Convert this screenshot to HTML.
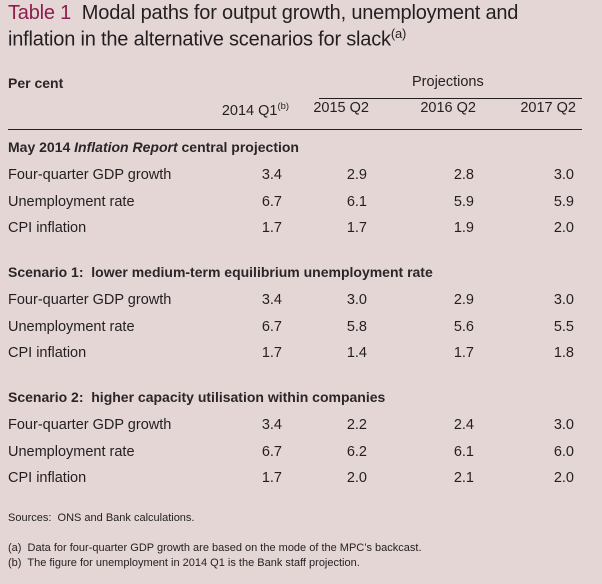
<!DOCTYPE html>
<html><head><meta charset="utf-8"><style>
body{margin:0;width:602px;height:584px;background:#e5d6d6;font-family:"Liberation Sans",sans-serif;color:#231f20;position:relative;overflow:hidden}
.t{position:absolute;white-space:nowrap}
.title{font-size:20px;letter-spacing:-0.2px}
.b{font-weight:bold;font-size:14px;color:#2a2627}
.r{font-size:14.5px}
.n{font-size:14.5px;text-align:right;width:60px}
.s{font-size:11px}
.rule{position:absolute;height:1px;background:#231f20}
sup{font-size:65%}
</style></head><body>
<div class="t title" style="left:8px;top:2px"><span style="color:#8c1d4e">Table 1</span>&nbsp; Modal paths for output growth, unemployment and</div>
<div class="t title" style="left:8px;top:26px">inflation in the alternative scenarios for slack<sup>(a)</sup></div>
<div class="t b" style="left:8px;top:75px">Per cent</div>
<div class="t r" style="left:412px;top:74px">Projections</div>
<div class="rule" style="left:319px;top:98px;width:263px"></div>
<div class="rule" style="left:8px;top:129px;width:574px"></div>
<div class="t s" style="left:8px;top:512px">Sources:&nbsp; ONS and Bank calculations.</div>
<div class="t s" style="left:8px;top:542px">(a)&nbsp; Data for four-quarter GDP growth are based on the mode of the MPC’s backcast.</div>
<div class="t s" style="left:8px;top:557px">(b)&nbsp; The figure for unemployment in 2014 Q1 is the Bank staff projection.</div>
<script>
const columns=["2014 Q1","2015 Q2","2016 Q2","2017 Q2"];
const sections=["May 2014 <i>Inflation Report</i> central projection","Scenario 1:&nbsp; lower medium-term equilibrium unemployment rate","Scenario 2:&nbsp; higher capacity utilisation within companies"];
const rowLabels=["Four-quarter GDP growth","Unemployment rate","CPI inflation"];
const central=[["3.4","2.9","2.8","3.0"],["6.7","6.1","5.9","5.9"],["1.7","1.7","1.9","2.0"]];
const scenario1=[["3.4","3.0","2.9","3.0"],["6.7","5.8","5.6","5.5"],["1.7","1.4","1.7","1.8"]];
const scenario2=[["3.4","2.2","2.4","3.0"],["6.7","6.2","6.1","6.0"],["1.7","2.0","2.1","2.0"]];
const data=[central,scenario1,scenario2];
const colRight=[282,367,474,574];
const root=document.body;
function mk(cls,html,l,t){const d=document.createElement('div');d.className='t '+cls;d.innerHTML=html;d.style.left=l+'px';d.style.top=t+'px';root.appendChild(d);return d;}
columns.forEach((c,i)=>{
  const d=mk('n',c+(i===0?'<sup>(b)</sup>':''),colRight[i]-80+(i===0?7:2),100);
  d.style.width='80px';
  
  
});
sections.forEach((s,si)=>{
  const top=139+si*125;
  const h=mk('b',s,8,top);
  
  
  rowLabels.forEach((lab,ri)=>{
    const y=top+28+ri*26.5;
    const l=mk('r',lab,8,y);
    
    
    data[si][ri].forEach((v,ci)=>{
      const c=mk('n',v,colRight[ci]-60,y);
      
      
    });
  });
});
</script>
</body></html>
